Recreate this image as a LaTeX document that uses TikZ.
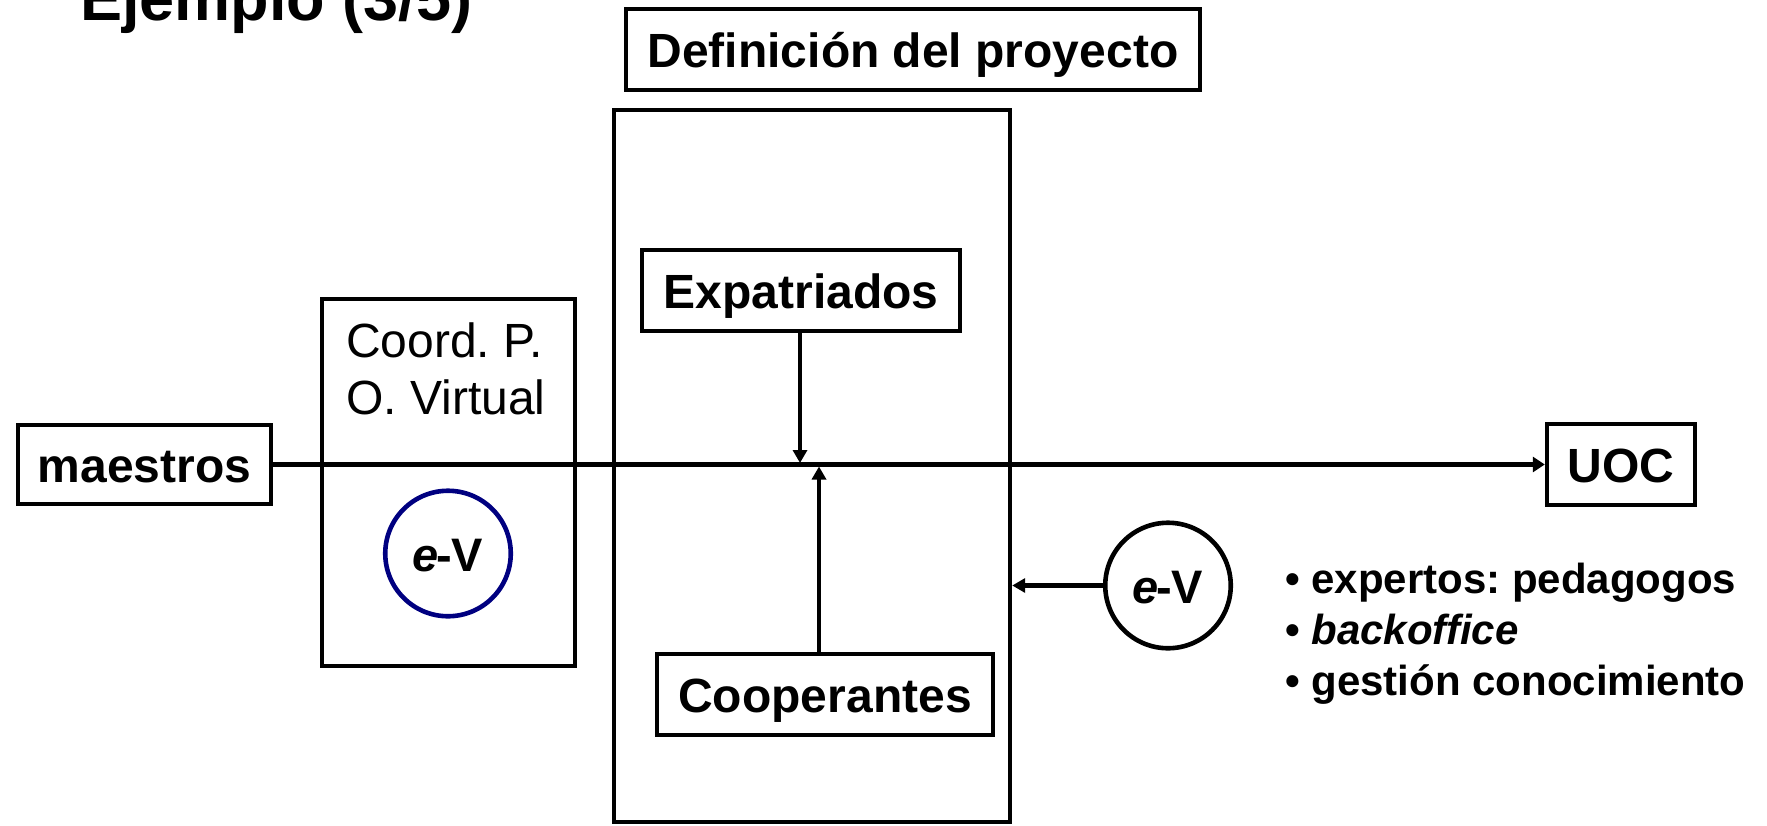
\documentclass[tikz,border=0pt]{standalone}
\usepackage{fontspec}
\setmainfont{Liberation Sans}
\usetikzlibrary{arrows.meta}
\definecolor{evnavy}{RGB}{0,0,128}
\begin{document}
\frenchspacing
\begin{tikzpicture}[x=1pt,y=-1pt,
  box/.style={draw, line width=4.4pt, inner sep=0pt, font=\fontsize{48}{57}\selectfont\bfseries, text height=35pt, text depth=0pt, minimum height=81pt},
  evc/.style={draw, circle, line width=4.6pt, inner sep=0pt, minimum size=125.5pt, font=\fontsize{47}{56}\selectfont\bfseries, text height=35pt, text depth=0pt},
  plain/.style={draw, line width=4.4pt, inner sep=0pt},
  lbl/.style={anchor=base west, inner sep=0pt},
  listfont/.style={font=\fontsize{42}{51}\selectfont\bfseries},
  arr/.style={line width=4.4pt, -{Triangle[length=13pt,width=14pt]}},
]
\useasboundingbox (0,0) rectangle (1767,825);

% title (cut at top)
\node[lbl, font=\fontsize{63}{75}\selectfont\bfseries] (title) at (80,20) {Ejemplo (3/5)};

% boxes
\node[box, minimum width=574pt] (def) at (913,49.5) {Definición del proyecto};
\node[plain, minimum width=396pt, minimum height=712pt] (bigrect) at (812,466) {};
\node[plain, minimum width=253pt, minimum height=367pt] (coord) at (448.5,482.5) {};
\node[box, minimum width=253pt, minimum height=79pt] (maestros) at (144.5,464.5) {maestros};
\node[box, minimum width=318pt] (exp) at (801,290.5) {Expatriados};
\node[box, minimum width=336pt] (coop) at (825,694.5) {Cooperantes};
\node[box, minimum width=148pt] (uoc) at (1621,464.5) {UOC};

% coord labels
\node[lbl, font=\fontsize{48}{57}\selectfont] (coordA) at (346,357) {Coord. P.};
\node[lbl, font=\fontsize{48}{57}\selectfont] (coordB) at (346,414) {O. Virtual};

% e-V circles
\node[evc, draw=evnavy] (ev1) at (448,553.5) {\textit{e}\kern-3pt-V};
\node[evc] (ev2) at (1168,585.5) {\textit{e}\kern-3pt-V};

% list
\node[lbl, listfont] (l1) at (1285,593) {• expertos: pedagogos};
\node[lbl, listfont] (l2) at (1285,644) {• \textit{backoffice}};
\node[lbl, listfont] (l3) at (1285,695) {• gestión conocimiento};

% connectors
\draw[line width=4.4pt, -{Triangle[length=12pt,width=15pt]}] (maestros.east) -- (uoc.west);
\coordinate (cd) at ([xshift=-1pt]exp.south);
\draw[arr] (cd) -- ([yshift=1.5pt]cd |- maestros.east);
\coordinate (cu) at ([xshift=-6pt]coop.north);
\draw[arr] (cu) -- ([yshift=-2pt]cu |- maestros.east);
\draw[arr] (ev2.west) -- (ev2.west -| bigrect.east);
\end{tikzpicture}
\end{document}
